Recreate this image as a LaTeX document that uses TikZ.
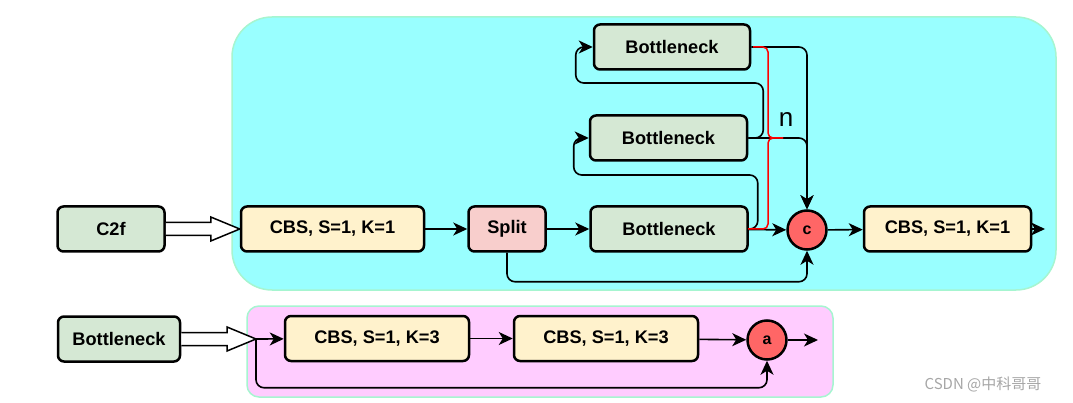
\documentclass[tikz,border=0pt]{standalone}
\usepackage{fontspec}
\setmainfont{Liberation Sans}
\newfontfamily\cjk{Noto Sans CJK SC}
\usetikzlibrary{arrows.meta}
\usetikzlibrary{calc}

\definecolor{boxcyan}{HTML}{99FFFF}
\definecolor{boxpink}{HTML}{FFCCFF}
\definecolor{boxedge}{HTML}{A6F5D0}
\definecolor{fillgreen}{HTML}{D5E8D4}
\definecolor{fillyellow}{HTML}{FFF2CC}
\definecolor{fillpink}{HTML}{F8CECC}
\definecolor{fillred}{HTML}{FF6666}

\tikzset{
  block/.style={draw=black, line width=2.5pt, rounded corners=6pt, minimum height=45pt,
    inner sep=0pt, font=\bfseries\fontsize{18.2}{21}\selectfont},
  bneck/.style={block, fill=fillgreen, minimum width=157pt},
  cbs/.style={block, fill=fillyellow, minimum width=184pt},
  splitbox/.style={block, fill=fillpink, minimum width=77pt},
  concat/.style={circle, draw=black, line width=2.5pt, fill=fillred, minimum size=39pt,
    inner sep=0pt, font=\bfseries\fontsize{16}{18}\selectfont},
  link/.style={line width=1.6pt, rounded corners=8pt, -{Stealth[length=14pt,width=13pt,inset=4pt]}},
}

% hollow double arrow between two nodes
\newcommand{\flexarrow}[2]{%
  \draw [line width=1.5pt, fill=white, line join=miter] ($(#1)+(0,-6.5)$) -- ($(#2)+(-29,-6.5)$)
    -- ($(#2)+(-29,-12)$) -- (#2) -- ($(#2)+(-29,12)$) -- ($(#2)+(-29,6.5)$) -- ($(#1)+(0,6.5)$);}

\begin{document}
\begin{tikzpicture}[x=1pt,y=-1pt]
\useasboundingbox (0,0) rectangle (1073,403);
%%
\fill [boxcyan, draw=boxedge, line width=1.5pt, rounded corners=40pt] (232,17) rectangle (1056,290);
\fill [boxpink, draw=boxedge, line width=1.5pt, rounded corners=12pt] (247,306) rectangle (833,397);
%%
\node (c2f) at (111,229) [block, fill=fillgreen, minimum width=107pt] {C2f};
  \node (cbs_1) at (332.5,229) [cbs, minimum width=183pt] {CBS, S=1, K=1};
  \node (split) at (507,229) [splitbox] {Split};
  \node (bneck_1) at (669,229) [bneck] {Bottleneck};
  \node (bneck_2) at (668.5,138) [bneck] {Bottleneck};
  \node (bneck_3) at (672,47) [bneck, minimum width=156pt] {Bottleneck};
  \node (cat_c) at (807,230) [concat] {c};
  \node (cbs_2) at (947.5,229) [cbs, minimum width=167pt] {CBS, S=1, K=1};
  \coordinate (out_c) at (1045,229);
  \node (n_label) at (786,120) [font=\fontsize{26}{30}\selectfont] {n};
%%
\node (bneck_in) at (119,339) [block, fill=fillgreen, minimum width=122pt] {Bottleneck};
  \coordinate (fork) at (256,339);
  \node (cbs_3) at (377,338.5) [cbs] {CBS, S=1, K=3};
  \node (cbs_4) at (606,338.5) [cbs] {CBS, S=1, K=3};
  \node (add_a) at (767,340) [concat] {a};
  \coordinate (out_a) at (818,340);
%%
\flexarrow{c2f.east}{cbs_1.west}
  \flexarrow{bneck_in.east}{fork}
%%
\draw [link] (cbs_1) -- (split);
  \draw [link] (split) -- (bneck_1);
  \draw [link] (bneck_1) -- (cat_c);
  \draw [link] (bneck_1.east) -- ++(9,0) -- ++(0,-54) -| ($(bneck_2.west)+(-15,0)$) -- (bneck_2.west);
  \draw [link] (bneck_2.east) -- ++(15,0) -- ++(0,-55) -| ($(bneck_3.west)+(-17,0)$) -- (bneck_3.west);
  \draw [link] (bneck_3.east) -| (cat_c.north);
  \draw [link] (bneck_2.east) -| (cat_c.north);
  \draw [link] (split.south) |- ($(cat_c.south)+(0,31)$) -- (cat_c.south);
  \draw [link] (cat_c) -- (cbs_2);
  \draw [link] (cbs_2) -- (out_c);
%%
\draw [red, line width=1.5pt, rounded corners=5pt] (753,47) -- (768,47) -- (768,138) -- (783,138);
  \draw [red, line width=1.5pt, rounded corners=5pt] (748,229) -- (768,229) -- (768,138) -- (783,138);
%%
\draw [link] (fork) -- (cbs_3);
  \draw [link] (fork) |- ($(add_a.south)+(0,27)$) -- (add_a.south);
  \draw [link] (cbs_3) -- (cbs_4);
  \draw [link] (cbs_4) -- (add_a);
  \draw [link] (add_a) -- (out_a);
%%
\node (mark) at (983,384) [text=black!35, font=\cjk\fontsize{15}{18}\selectfont] {CSDN @中科哥哥};
%
\end{tikzpicture}
\end{document}
